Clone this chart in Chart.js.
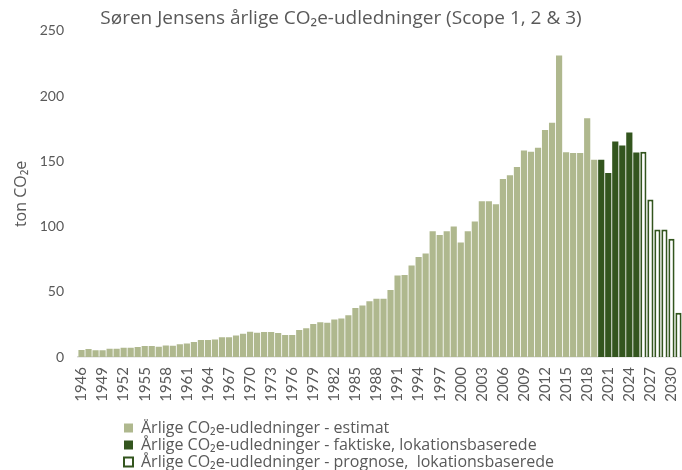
<!DOCTYPE html>
<html>
<head>
<meta charset="utf-8">
<script src="https://cdn.jsdelivr.net/npm/chart.js@4"></script>
<style>
  body { margin: 0; background: #fff; }
</style>
</head>
<body>
<canvas id="myChart" width="682" height="470"></canvas>
<script>
const years = [
  "1946","1947","1948","1949","1950","1951","1952","1953","1954","1955",
  "1956","1957","1958","1959","1960","1961","1962","1963","1964","1965",
  "1966","1967","1968","1969","1970","1971","1972","1973","1974","1975",
  "1976","1977","1978","1979","1980","1981","1982","1983","1984","1985",
  "1986","1987","1988","1989","1990","1991","1992","1993","1994","1995",
  "1996","1997","1998","1999","2000","2001","2002","2003","2004","2005",
  "2006","2007","2008","2009","2010","2011","2012","2013","2014","2015",
  "2016","2017","2018","2019","2020","2021","2022","2023","2024","2025",
  "2026","2027","2028","2029","2030","2031"
];

// 1946-2019
const estimat = [
  5.3, 6.1, 5.2, 5.2, 6.3, 6.4, 7.0, 7.0, 7.6, 8.4,
  8.4, 7.9, 8.9, 8.6, 9.8, 10.3, 11.5, 13.0, 13.0, 13.5,
  15.2, 15.2, 16.4, 17.8, 19.3, 18.5, 19.2, 19.2, 18.4, 16.8,
  16.8, 20.6, 22.1, 25.2, 26.7, 26.2, 28.7, 29.5, 32.0, 37.6,
  39.4, 42.7, 44.7, 44.7, 51.3, 62.5, 62.8, 70.1, 76.7, 79.3,
  96.3, 93.5, 96.3, 100.1, 87.7, 96.3, 103.9, 119.3, 119.3, 117.1,
  136.4, 139.2, 145.6, 158.3, 157.3, 160.3, 174.0, 179.6, 231.0, 157.0,
  156.3, 156.3, 182.9, 151.2
];
// 2020-2025
const faktiske = [151.2, 141.0, 165.1, 162.1, 172.0, 156.8];
// 2026-2031
const prognose = [157.3, 120.7, 97.8, 97.8, 90.7, 34.0];

const yTicks = [0, 50, 100, 150, 200, 250];

const lightGreen = "#afb88e";
const darkGreen = "#33551e";
const textGrey = "#595959";

const nulls = n => Array(n).fill(null);

// puts the legend where the reference has it (left-aligned block under the axis)
const legendShift = {
  id: "legendShift",
  beforeDraw(chart) {
    chart.legend.left = 123;
    chart.legend.top = 419;
  }
};

const ctx = document.getElementById("myChart").getContext("2d");
const myChart = new Chart(ctx, {
  type: "bar",
  data: {
    labels: years,
    datasets: [
      {
        label: "Årlige CO₂e-udledninger - estimat",
        data: estimat.concat(nulls(years.length - estimat.length)),
        backgroundColor: lightGreen,
        borderWidth: 0
      },
      {
        label: "Årlige CO₂e-udledninger - faktiske, lokationsbaserede",
        data: nulls(estimat.length).concat(faktiske, nulls(prognose.length)),
        backgroundColor: darkGreen,
        borderWidth: 0
      },
      {
        label: "Årlige CO₂e-udledninger - prognose,  lokationsbaserede",
        data: nulls(estimat.length + faktiske.length).concat(prognose),
        backgroundColor: "#ffffff",
        borderColor: darkGreen,
        borderWidth: 2
      }
    ]
  },
  options: {
    responsive: false,
    animation: false,
    datasets: {
      bar: { categoryPercentage: 1, barPercentage: 0.88 }
    },
    layout: { padding: 0 },
    plugins: {
      title: {
        display: true,
        text: "Søren Jensens årlige CO₂e-udledninger (Scope 1, 2 & 3)",
        color: textGrey,
        font: { family: "Open Sans", size: 19, weight: "normal" },
        padding: { top: 7, bottom: 1 }
      },
      legend: {
        position: "bottom",
        align: "start",
        labels: {
          color: textGrey,
          font: { family: "Open Sans", size: 16 },
          boxWidth: 9,
          boxHeight: 9,
          padding: 1
        }
      },
      tooltip: { enabled: false }
    },
    scales: {
      x: {
        stacked: true,
        grid: { display: false, drawTicks: false },
        border: { display: true, color: "#d9d9d9", width: 1.5 },
        ticks: {
          autoSkip: false,
          minRotation: 90,
          maxRotation: 90,
          padding: 10,
          color: textGrey,
          font: { family: "Lato", size: 15 },
          callback: (v, i) => (i % 3 === 0 ? years[i] : null)
        },
        afterFit: s => {
          s.height = 69;
          s.paddingLeft = 0;
          s.paddingRight = 0;
        }
      },
      y: {
        stacked: true,
        min: 0,
        max: 250,
        grid: { display: false, drawTicks: false },
        border: { display: false },
        ticks: {
          stepSize: 50,
          padding: 14,
          color: textGrey,
          font: { family: "Lato", size: 14 },
          callback: v => (yTicks.includes(v) ? v : null)
        },
        title: {
          display: true,
          text: "ton CO₂e",
          color: textGrey,
          font: { family: "Open Sans", size: 16 },
          padding: { top: 12, bottom: 0 }
        },
        afterFit: s => { s.width = 78; }
      }
    }
  },
  plugins: [legendShift]
});
</script>
</body>
</html>
